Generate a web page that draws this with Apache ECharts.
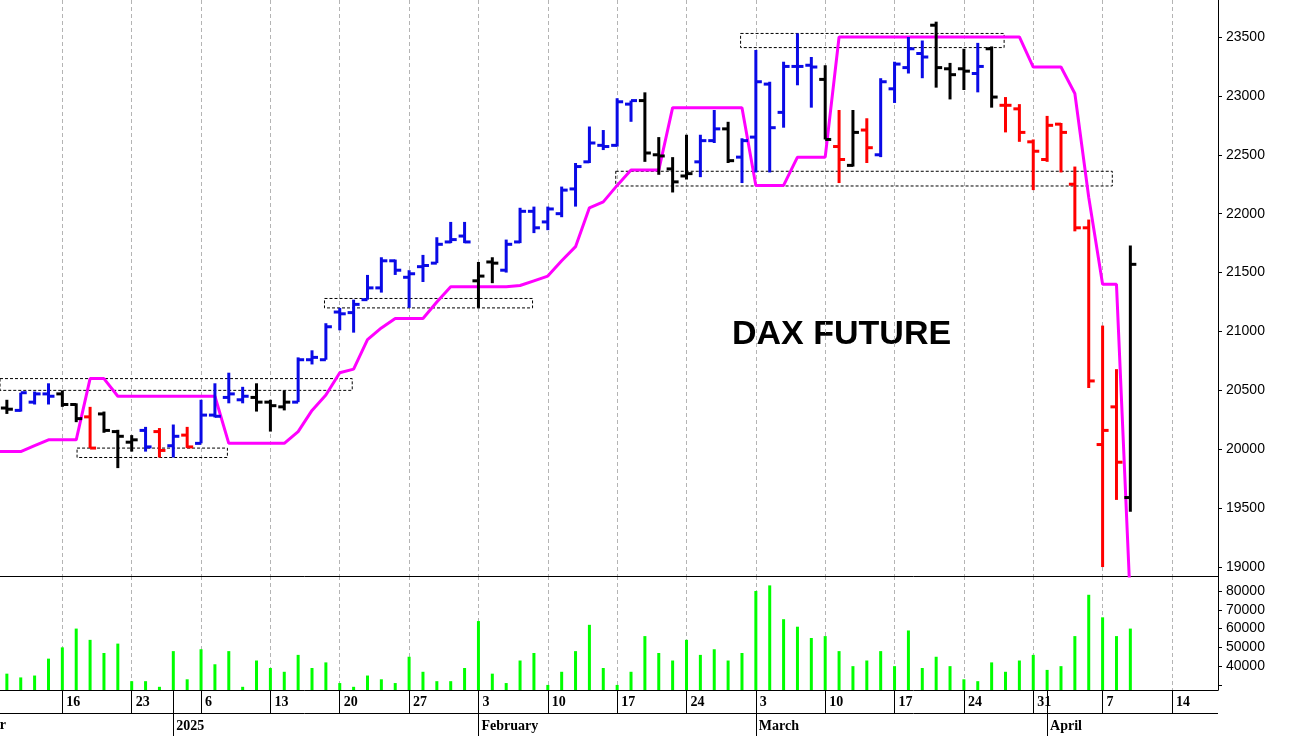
<!DOCTYPE html>
<html><head><meta charset="utf-8">
<script src="https://cdn.jsdelivr.net/npm/echarts@6/dist/echarts.min.js"></script>
<style>html,body{margin:0;padding:0;background:#fff}#c{width:1290px;height:736px}</style>
</head><body><div id="c"></div>
<script>
// trading days Dec 9 2024 .. Apr 9 2025 (index 0..82)
const dates = ['2024-12-09','2024-12-10','2024-12-11','2024-12-12','2024-12-13','2024-12-16','2024-12-17','2024-12-18','2024-12-19','2024-12-20',
'2024-12-23','2024-12-27','2024-12-30','2025-01-02','2025-01-03','2025-01-06','2025-01-07','2025-01-08','2025-01-09','2025-01-10',
'2025-01-13','2025-01-14','2025-01-15','2025-01-16','2025-01-17','2025-01-20','2025-01-21','2025-01-22','2025-01-23','2025-01-24',
'2025-01-27','2025-01-28','2025-01-29','2025-01-30','2025-01-31','2025-02-03','2025-02-04','2025-02-05','2025-02-06','2025-02-07',
'2025-02-10','2025-02-11','2025-02-12','2025-02-13','2025-02-14','2025-02-17','2025-02-18','2025-02-19','2025-02-20','2025-02-21',
'2025-02-24','2025-02-25','2025-02-26','2025-02-27','2025-02-28','2025-03-03','2025-03-04','2025-03-05','2025-03-06','2025-03-07',
'2025-03-10','2025-03-11','2025-03-12','2025-03-13','2025-03-14','2025-03-17','2025-03-18','2025-03-19','2025-03-20','2025-03-21',
'2025-03-24','2025-03-25','2025-03-26','2025-03-27','2025-03-28','2025-03-31','2025-04-01','2025-04-02','2025-04-03','2025-04-04',
'2025-04-07','2025-04-08','2025-04-09'];
const openV = [20300,20350,20330,20400,20470,20470,20380,20275,20300,20150,
20060,20160,20150,20030,20120,20050,20290,20440,20420,20440,
20400,20360,20400,20760,20760,21165,21160,21270,21370,21600,
21460,21550,21580,21760,21810,21430,21590,21520,21760,22020,
21930,22000,22210,22440,22580,22580,22930,22960,22500,22380,
22320,22440,22620,22720,22480,22650,23100,22860,23250,23260,
23140,22570,22410,22710,22500,23060,23240,23360,23600,23230,
23230,23190,23400,22920,22890,22610,22460,22760,22250,21880,
20040,20360,19590];
const highV = [20420,20420,20480,20490,20560,20500,20390,20360,20320,20165,
20120,20190,20180,20210,20190,20420,20560,20650,20530,20560,
20420,20500,20780,20840,21070,21200,21270,21480,21630,21610,
21520,21650,21800,21930,21930,21590,21630,21780,22050,22060,
22060,22230,22430,22740,22710,22980,22960,23030,22650,22480,
22670,22670,22880,22780,22640,23390,23120,23290,23530,23330,
23260,22880,22880,22810,23150,23290,23500,23470,23630,23280,
23400,23450,23420,22990,22930,22630,22830,22770,22400,21950,
21050,20680,21730];
const lowV = [20280,20300,20320,20380,20380,20360,20230,20010,20140,19840,
19980,19980,19930,19930,20010,20050,20270,20390,20390,20320,
20150,20330,20400,20720,20760,21010,20990,21270,21330,21480,
21200,21420,21580,21750,21750,21200,21410,21500,21750,21835,
21860,21970,22060,22430,22540,22570,22780,22440,22330,22180,
22290,22310,22600,22430,22260,22350,22350,22730,23090,22900,
22630,22260,22400,22430,22480,22940,23190,23150,23070,22970,
23050,23030,22900,22690,22610,22200,22440,22350,21850,20520,
19000,19570,19470];
const closeV = [20350,20340,20480,20470,20450,20380,20260,20010,20160,20110,
20080,20020,19990,20110,20020,20290,20280,20470,20450,20400,
20370,20400,20760,20780,21040,21150,21230,21370,21600,21520,
21490,21560,21740,21780,21760,21470,21580,21740,22020,21880,
22040,22200,22400,22600,22570,22950,22960,22515,22490,22270,
22340,22620,22720,22450,22620,23120,22730,23250,23250,23245,
22630,22460,22690,22560,23120,23270,23400,23330,23240,23180,
23210,23250,22990,22920,22690,22530,22750,22690,21880,20580,
20160,19890,21570];
const barColorCode = 'KKBBBKKRKKKBRBRBBBBKKKBBBBBBBBBBBBBKKBBBBBBBBBBKKKKBBKBBBBBBKRKRBBBBKKKBKRRRRRRRRRK';
const stopLine = [19980,19980,19980,20030,20080,20080,20080,20600,20600,20450,
20450,20450,20450,20450,20450,20450,20450,20050,20050,20050,
20050,20050,20150,20330,20460,20650,20680,20930,21030,21110,
21110,21110,21250,21380,21380,21380,21380,21380,21390,21430,
21470,21600,21720,22050,22100,22240,22370,22370,22370,22900,
22900,22900,22900,22900,22900,22240,22240,22240,22480,22480,
22480,23500,23500,23500,23500,23500,23500,23500,23500,23500,
23500,23500,23500,23500,23500,23245,23245,23245,23020,22140,
21400,21400,18700];
const volume = [36000,36000,34000,35000,44000,50000,60000,54000,47000,52000,32000,
32000,29000,48000,33000,49000,41000,48000,29000,43000,39000,
37000,46000,39000,42000,31000,29000,35000,33000,31000,45000,
37000,32000,32000,39000,64000,36000,31000,43000,47000,30000,
37000,48000,62000,39000,30000,37000,56000,47000,43000,54000,
46000,49000,43000,47000,80000,83000,65000,61000,55000,56000,
48000,40000,43000,48000,40000,59000,39000,45000,40000,33000,
32000,42000,37000,43000,46000,38000,40000,56000,78000,66000,
56000,60000];
// weekly grid (Mondays) and their labels
const mondayIdx = [0,5,10,15,20,25,30,35,40,45,50,55,60,65,70,75,80,85];
const mondayLabels = ['9','16','23','6','13','20','27','3','10','17','24','3','10','17','24','31','7','14'];
const monthIdx = [13,35,55,76];
const monthLabels = ['2025','February','March','April'];
const priceTicks = [19000,19500,20000,20500,21000,21500,22000,22500,23000,23500];
const volTicks = [40000,50000,60000,70000,80000];
// dashed boxes: [startIdx, endIdx, low, high]
const boxes = [[-1,25.9,20500,20600],[6.06,16.9,19930,20010],[23.9,38.9,21200,21280],[44.9,80.7,22235,22360],[53.9,72.9,23410,23530]];

const colorMap = {B:'#0a0ae6', R:'#ff0000', K:'#000000'};
const XMIN = 0.505, XMAX = 88.32;
const ohlc = dates.map((d,i)=>[i,openV[i],highV[i],lowV[i],closeV[i],i]);
const font = 'Liberation Sans';
const chart = echarts.init(document.getElementById('c'));
const lbl = (v)=>{const k=mondayIdx.indexOf(Math.round(v));return k>=0?mondayLabels[k]:'';};
const mlbl = (v)=>{const k=monthIdx.indexOf(Math.round(v));return k>=0?monthLabels[k]:'';};
const plain = (v)=>String(Math.round(v));
chart.setOption({
  animation:false,
  grid:[{left:0,right:72,top:0,height:576},{left:0,right:72,top:576,bottom:46}],
  xAxis:[
    {type:'value',gridIndex:0,min:XMIN,max:XMAX,axisLabel:{show:false},
     axisLine:{show:true,lineStyle:{color:'#000',width:1}},axisTick:{show:false,customValues:mondayIdx},
     splitLine:{show:true,lineStyle:{color:'#b4b4b4',type:[4,3],width:1}}},
    {type:'value',gridIndex:1,min:XMIN,max:XMAX,
     axisLine:{show:true,lineStyle:{color:'#000'}},
     axisTick:{show:true,length:23,customValues:mondayIdx,lineStyle:{color:'#000'}},
     axisLabel:{customValues:mondayIdx,formatter:lbl,align:'left',padding:[0,0,0,4],margin:5,
       fontFamily:'Liberation Serif',fontWeight:'bold',fontSize:14,color:'#000'},
     splitLine:{show:true,lineStyle:{color:'#b4b4b4',type:[4,3],width:1}}},
    {type:'value',gridIndex:1,min:XMIN,max:XMAX,position:'bottom',
     axisLine:{show:false},
     axisTick:{show:true,length:46,customValues:monthIdx,lineStyle:{color:'#000'}},
     axisLabel:{customValues:monthIdx,formatter:mlbl,align:'left',padding:[0,0,0,3],margin:29,
       fontFamily:'Liberation Serif',fontWeight:'bold',fontSize:14,color:'#000'},
     splitLine:{show:false}}
  ],
  yAxis:[
    {type:'value',gridIndex:0,position:'right',min:18924,max:23814,
     axisLine:{show:true,lineStyle:{color:'#000'}},axisTick:{show:true,length:4,customValues:priceTicks,lineStyle:{color:'#000'}},
     axisLabel:{customValues:priceTicks,formatter:plain,fontFamily:font,fontSize:14,color:'#000',margin:8},splitLine:{show:false}},
    {type:'value',gridIndex:1,position:'right',min:27300,max:88000,
     axisLine:{show:true,lineStyle:{color:'#000'}},axisTick:{show:true,length:4,customValues:[30000].concat(volTicks),lineStyle:{color:'#000'}},
     axisLabel:{customValues:volTicks,formatter:plain,fontFamily:font,fontSize:14,color:'#000',margin:8},splitLine:{show:false}}
  ],
  series:[
    {type:'line',xAxisIndex:0,yAxisIndex:0,data:stopLine.map((v,i)=>[i,v]),showSymbol:false,
     lineStyle:{color:'#ff00ff',width:3},z:2,
     markArea:{silent:true,itemStyle:{color:'rgba(0,0,0,0)',borderColor:'#000',borderWidth:1,borderType:[3,2]},
       data:boxes.map(b=>[{coord:[b[0],b[3]]},{coord:[b[1],b[2]]}])}},
    {type:'custom',xAxisIndex:0,yAxisIndex:0,data:ohlc,clip:true,z:3,
     renderItem:(params,api)=>{
       const i=api.value(0);
       const o=api.coord([i,api.value(1)]),h=api.coord([i,api.value(2)]),
             l=api.coord([i,api.value(3)]),c=api.coord([i,api.value(4)]);
       const col=colorMap[barColorCode[i]];
       const st={stroke:col,lineWidth:3};
       return {type:'group',children:[
         {type:'line',shape:{x1:h[0],y1:h[1],x2:l[0],y2:l[1]},style:st},
         {type:'line',shape:{x1:o[0]-6,y1:o[1],x2:o[0],y2:o[1]},style:st},
         {type:'line',shape:{x1:c[0],y1:c[1],x2:c[0]+6,y2:c[1]},style:st}
       ]};
     }},
    {type:'bar',xAxisIndex:1,yAxisIndex:1,data:volume.map((v,i)=>[i,v]),barWidth:3,
     itemStyle:{color:'#00ff00'}}
  ],
  graphic:[
    {type:'text',left:732,top:318,style:{text:'DAX FUTURE',font:'bold 34px Liberation Sans',fill:'#000'}},
    {type:'text',right:1284,top:718,style:{text:'December',font:'bold 14px Liberation Serif',fill:'#000'}},
    {type:'line',shape:{x1:0,y1:713.5,x2:1218,y2:713.5},style:{stroke:'#000',lineWidth:1}}
  ]
});
</script></body></html>
